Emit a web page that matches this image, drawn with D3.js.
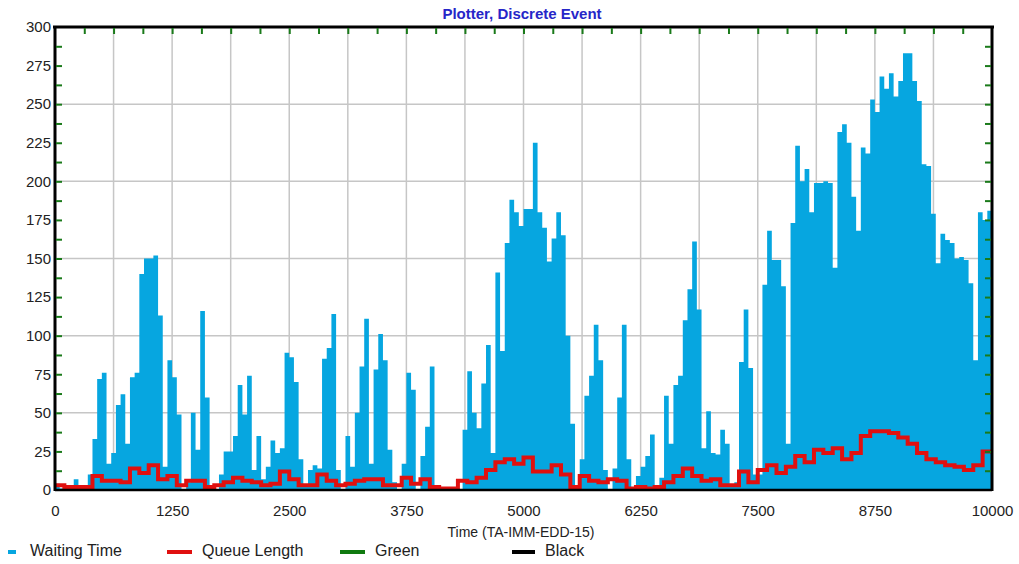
<!DOCTYPE html>
<html>
<head>
<meta charset="utf-8">
<script src="https://cdn.jsdelivr.net/npm/d3@7"></script>
<style>
  body { margin: 0; background: #fff; }
  svg { display: block; }
  .tick text { font-family: "Liberation Sans", Arial, sans-serif; font-size: 15px; fill: #222; }
</style>
</head>
<body>
<script>
// === Data ===
// waiting time, one value per 50 time units (0 .. 9950)
const waitStep = 50;
const waitTime = [
  4,1,0,2,7,0,2,10,33,72,76,17,24,55,62,30,
  73,76,140,150,150,152,113,15,84,73,49,0,5,50,26,116,60,0,0,10,25,25,35,68,49,74,13,35,7,15,32,24,27,89,86,
  70,20,3,13,16,14,85,92,114,13,0,35,15,50,80,111,17,78,101,84,26,5,0,17,76,65,0,22,41,80,0,0,0,0,0,0,39,77,50,40,69,94,24,141,90,160,188,180,171,182,182,
  225,180,170,148,163,180,165,100,43,0,20,61,74,107,84,13,0,14,60,107,20,0,9,15,22,36,0,8,61,30,68,74,110,130,161,117,27,51,24,23,39,30,3,5,83,117,79,10,10,
  133,168,149,149,132,30,173,223,200,208,180,199,199,200,199,144,232,237,225,190,168,222,218,253,245,268,260,270,255,265,283,283,265,252,211,210,179,147,166,162,160,150,151,149,134,84,180,175,181
];
// queue length, one value per 100 time units
const queueStep = 100;
const queueLength = [
  3,2,2,2,9,6,6,5,14,11,16,7,9,3,6,6,2,3,5,8,6,5,3,4,12,
  7,3,3,10,6,3,4,6,7,7,3,3,8,4,7,2,1,1,6,5,8,13,18,20,17,
  21,12,12,16,10,2,9,6,5,7,6,1,2,1,2,5,9,14,9,6,7,3,3,12,5,
  13,16,11,15,22,18,26,24,27,20,24,35,38,38,37,34,30,24,20,18,16,15,13,16,25
];
const greenT = [0, 10000];
const greenV = [0, 0];
const blackT = [0, 10000];
const blackV = [0, 0];

const xLabels = d3.range(0, 10001, 1250);
const yLabels = d3.range(0, 301, 25);

const legendItems = ["Waiting Time", "Queue Length", "Green", "Black"];
const legendColors = ["#06a6e0", "#e0100f", "#107a10", "#000000"];

//=== Setup ===
const W = 1019, H = 564;
const x = d3.scaleLinear().domain([0, 10000]).range([55, 992]);
const y = d3.scaleLinear().domain([0, 300]).range([490, 27]);

const svg = d3.select("body").append("svg")
  .attr("width", W)
  .attr("height", H);

// grid
svg.append("g")
  .selectAll("line")
  .data(d3.range(625, 10000, 625))
  .join("line")
  .attr("x1", d => x(d)).attr("x2", d => x(d))
  .attr("y1", y(300)).attr("y2", y(0))
  .attr("stroke", "#c6c6c6").attr("stroke-width", 1.5);

svg.append("g")
  .selectAll("line")
  .data(d3.range(50, 300, 50))
  .join("line")
  .attr("x1", x(0)).attr("x2", x(10000))
  .attr("y1", d => y(d)).attr("y2", d => y(d))
  .attr("stroke", "#c6c6c6").attr("stroke-width", 1.5);

svg.append("clipPath").attr("id", "plot")
  .append("rect")
  .attr("x", x(0)).attr("y", y(300))
  .attr("width", x(10000) - x(0)).attr("height", y(0) - y(300));

const plot = svg.append("g").attr("clip-path", "url(#plot)");

// waiting time as filled steps
const waitPts = waitTime.map((v, i) => [i * waitStep, v]);
waitPts.push([10000, waitTime[waitTime.length - 1]]);

const area = d3.area()
  .x(d => x(d[0]))
  .y0(y(0))
  .y1(d => y(d[1]))
  .curve(d3.curveStepAfter);

plot.append("path")
  .datum(waitPts)
  .attr("d", area)
  .attr("fill", legendColors[0]);

// other series
const line = d3.line()
  .x(d => x(d[0]))
  .y(d => y(d[1]))
  .curve(d3.curveStepAfter);

plot.append("path")
  .datum(greenT.map((t, i) => [t, greenV[i]]))
  .attr("d", line)
  .attr("fill", "none").attr("stroke", legendColors[2]).attr("stroke-width", 2);

plot.append("path")
  .datum(blackT.map((t, i) => [t, blackV[i]]))
  .attr("d", line)
  .attr("fill", "none").attr("stroke", legendColors[3]).attr("stroke-width", 2);

const queuePts = queueLength.map((v, i) => [i * queueStep, v]);
queuePts.push([10000, queueLength[queueLength.length - 1]]);

svg.append("path")
  .datum(queuePts)
  .attr("d", line)
  .attr("fill", "none")
  .attr("stroke", legendColors[1])
  .attr("stroke-width", 4)
  .attr("stroke-linejoin", "miter");

// frame
const frame = svg.append("g").attr("stroke", "#000").attr("fill", "none");
frame.append("line").attr("x1", x(0) - 2).attr("x2", x(10000) + 2).attr("y1", y(300)).attr("y2", y(300)).attr("stroke-width", 3);
frame.append("line").attr("x1", x(0)).attr("x2", x(0)).attr("y1", y(300)).attr("y2", y(0) + 1).attr("stroke-width", 3);
frame.append("line").attr("x1", x(10000)).attr("x2", x(10000)).attr("y1", y(300)).attr("y2", y(0) + 1).attr("stroke-width", 3);
frame.append("line").attr("x1", x(0)).attr("x2", x(10000)).attr("y1", y(0)).attr("y2", y(0)).attr("stroke-width", 2.5);

// green minor ticks
function greenTicks(g) {
  g.select(".domain").remove();
  g.selectAll(".tick line").attr("stroke", "#1a7a1a").attr("stroke-width", 2);
}
svg.append("g")
  .attr("transform", `translate(${x(0) + 1},0)`)
  .call(d3.axisRight(y).tickValues(d3.range(12.5, 300, 12.5)).tickSize(6).tickFormat(""))
  .call(greenTicks);
svg.append("g")
  .attr("transform", `translate(${x(10000) - 1},0)`)
  .call(d3.axisLeft(y).tickValues(d3.range(12.5, 300, 12.5)).tickSize(6).tickFormat(""))
  .call(greenTicks);
svg.append("g")
  .attr("transform", `translate(0,${y(300) + 1})`)
  .call(d3.axisBottom(x).tickValues(d3.range(312.5, 10000, 312.5)).tickSize(6).tickFormat(""))
  .call(greenTicks);

// labels
svg.append("g")
  .attr("transform", `translate(${x(0) - 2},0)`)
  .call(d3.axisLeft(y).tickValues(yLabels).tickSize(0).tickPadding(2).tickFormat(d3.format("d")))
  .call(g => g.select(".domain").remove());

svg.append("g")
  .attr("transform", `translate(0,${y(0)})`)
  .call(d3.axisBottom(x).tickValues(xLabels).tickSize(0).tickPadding(15).tickFormat(d3.format("d")))
  .call(g => g.select(".domain").remove());

// titles
svg.append("text")
  .attr("x", 522).attr("y", 19)
  .attr("text-anchor", "middle")
  .attr("font-family", "Liberation Sans, Arial, sans-serif")
  .attr("font-size", 15).attr("font-weight", "bold")
  .attr("fill", "#2626c8")
  .text("Plotter, Discrete Event");

svg.append("text")
  .attr("x", 521).attr("y", 537)
  .attr("text-anchor", "middle")
  .attr("font-family", "Liberation Sans, Arial, sans-serif")
  .attr("font-size", 14)
  .attr("fill", "#222")
  .text("Time (TA-IMM-EDD-15)");

// legend
const legendX = [8, 167, 340, 512];
const legendLen = [8, 25, 25, 23];
const lg = svg.append("g");
legendItems.forEach((name, i) => {
  lg.append("line")
    .attr("x1", legendX[i]).attr("x2", legendX[i] + legendLen[i])
    .attr("y1", 552).attr("y2", 552)
    .attr("stroke", legendColors[i]).attr("stroke-width", 4);
  lg.append("text")
    .attr("x", legendX[i] + (i == 0 ? 22 : legendLen[i] + 10))
    .attr("y", 556)
    .attr("font-family", "Liberation Sans, Arial, sans-serif")
    .attr("font-size", 16)
    .attr("fill", "#222")
    .text(name);
});
</script>
</body>
</html>
